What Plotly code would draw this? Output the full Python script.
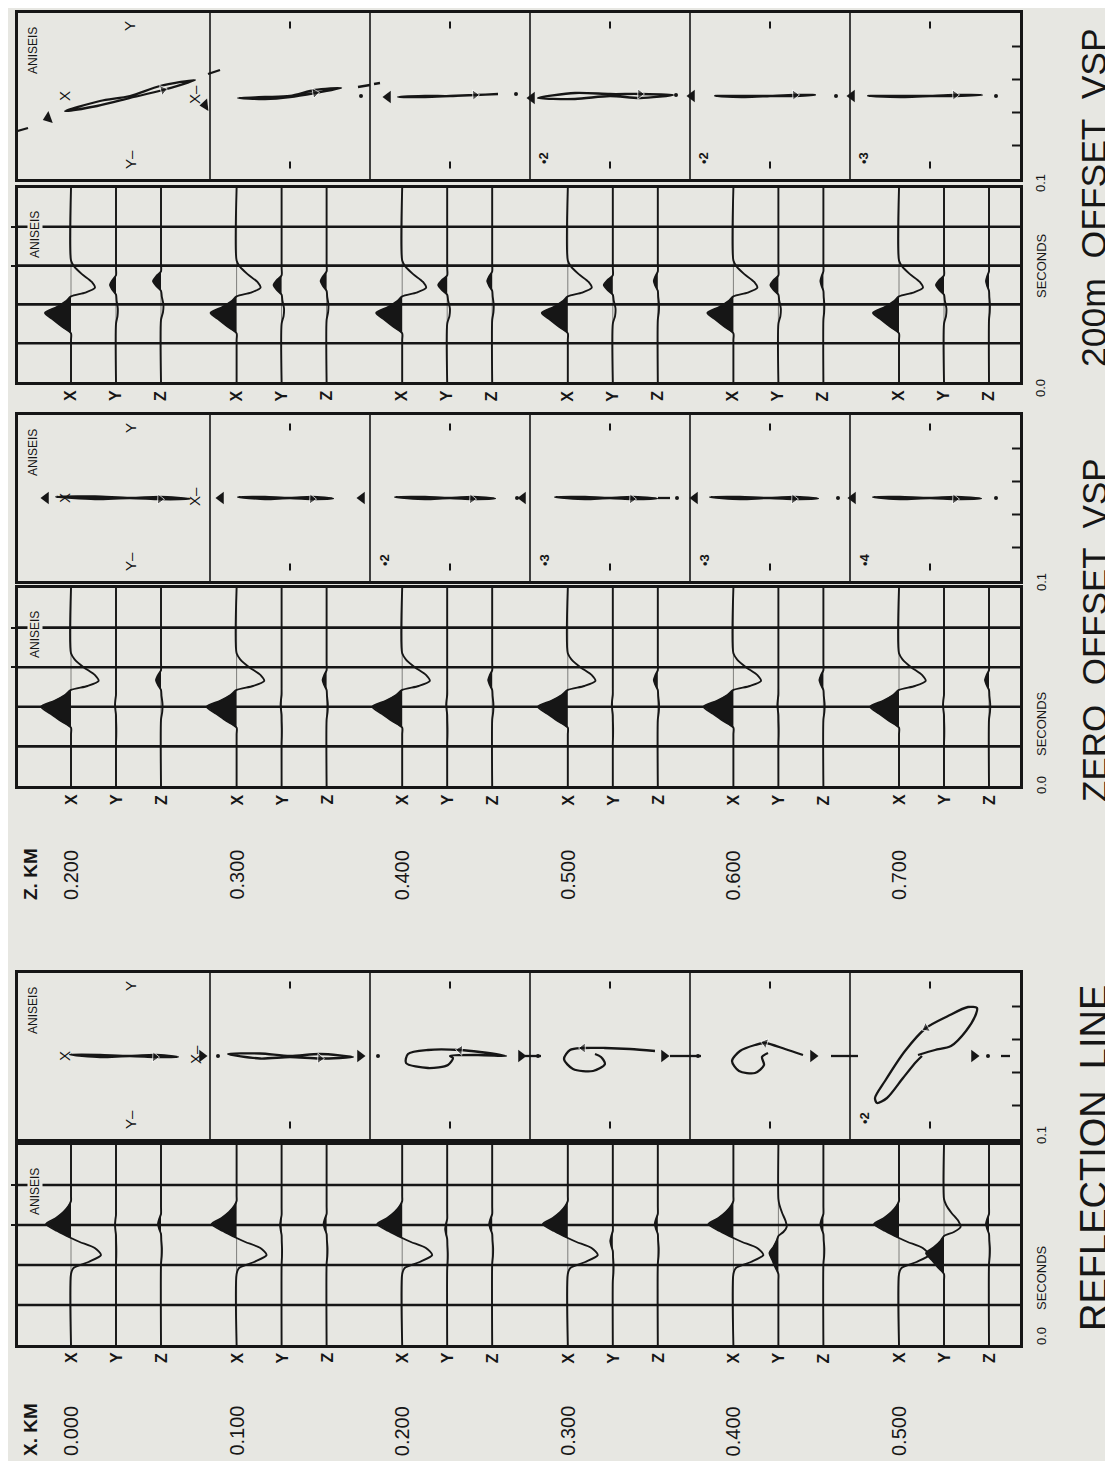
import plotly.graph_objects as go

FIG_W, FIG_H = 1113, 1461
PAPER = "#e7e7e2"
INK = "#161616"
FONT = "Liberation Sans, Arial, Helvetica, sans-serif"

# ------------------------------------------------------------------ data
OFFSET_KM = [0.0, 0.1, 0.2, 0.3, 0.4, 0.5]
OFFSET_LABELS = ["0.000", "0.100", "0.200", "0.300", "0.400", "0.500"]
DEPTH_KM = [0.2, 0.3, 0.4, 0.5, 0.6, 0.7]
DEPTH_LABELS = ["0.200", "0.300", "0.400", "0.500", "0.600", "0.700"]
COMPONENTS = ["X", "Y", "Z"]
TIME_GRID_S = [0.02, 0.04, 0.06, 0.08]
TIME_TICKS_S = [0.06, 0.08]

# wavelet shapes: time relative to main peak (s), normalised amplitude
DIRECT_T = [-0.014, -0.0105, -0.007, -0.0035, 0.0, 0.003, 0.006, 0.0085, 0.0105, 0.013, 0.016, 0.020, 0.024, 0.027]
DIRECT_A = [0.0, 0.0, 0.35, 0.68, 1.0, 0.55, 0.2, 0.0, -0.55, -0.92, -0.8, -0.42, -0.12, 0.0]
REFLECT_T = [-0.025, -0.022, -0.019, -0.0155, -0.012, -0.009, -0.007, -0.0035, 0.0, 0.003, 0.006, 0.009, 0.0115, 0.014]
REFLECT_A = [0.0, -0.1, -0.7, -1.2, -0.95, -0.35, 0.0, 0.55, 1.0, 0.6, 0.3, 0.1, 0.0, 0.0]
LOBE_T = [-0.02, -0.016, -0.012, -0.008, -0.005, -0.0025, 0.0, 0.0025, 0.005, 0.009]
LOBE_A = [0.0, -0.25, -0.3, -0.1, 0.0, 0.6, 1.0, 0.6, 0.0, 0.0]
TEMPLATES = {"direct": (DIRECT_T, DIRECT_A), "reflect": (REFLECT_T, REFLECT_A), "lobe": (LOBE_T, LOBE_A)}

# per-trace amplitude (plot units) and peak time (s)
REFL_X_AMP = [25, 25, 25, 25, 25, 25]
REFL_X_T0 = [0.0605, 0.0605, 0.0605, 0.0605, 0.0605, 0.0605]
REFL_Y_AMP = [1.0, 1.5, 2.0, 2.5, 9.0, 18.0]
REFL_Y_T0 = [0.060, 0.060, 0.058, 0.052, 0.046, 0.046]
REFL_Y_SHAPE = ["lobe", "lobe", "lobe", "lobe", "direct", "direct"]
REFL_Z_AMP = [3, 3, 3, 3, 3, 3]
REFL_Z_T0 = [0.0605, 0.0605, 0.0605, 0.0605, 0.0605, 0.0605]

ZERO_X_AMP = [30, 30, 30, 30, 30, 29]
ZERO_X_T0 = [0.040, 0.040, 0.040, 0.040, 0.040, 0.040]
ZERO_Y_AMP = [1, 1, 1, 1, 1, 1]
ZERO_Y_T0 = [0.041, 0.041, 0.041, 0.041, 0.041, 0.041]
ZERO_Z_AMP = [5, 4, 4, 4, 4, 4]
ZERO_Z_T0 = [0.0535, 0.0535, 0.0535, 0.0535, 0.0535, 0.0535]

OFF_X_AMP = [26, 26, 26, 26, 26, 26]
OFF_X_T0 = [0.0356, 0.0356, 0.0356, 0.0356, 0.0356, 0.0356]
OFF_Y_AMP = [6, 8, 9, 9, 8, 8]
OFF_Y_T0 = [0.050, 0.050, 0.050, 0.050, 0.050, 0.050]
OFF_Z_AMP = [8, 6, 5, 4, 3, 3]
OFF_Z_T0 = [0.052, 0.052, 0.052, 0.052, 0.052, 0.052]

# hodograms (X positive toward image-left, Y positive up), plot units, one list per cell
HODO_OFF = [
    [(0, 0), (30, -5), (65, -15), (33, -10), (0, -2), (-33, 6), (-65, 16), (-30, 10), (0, 0)],
    [(0, 0), (25, -1), (52, -2), (25, -3), (0, -1), (-25, 3), (-51, 8), (-25, 6), (0, 0)],
    [(0, 0), (25, 0), (52, -1), (25, -1), (0, 0), (-25, 1), (-48, 2), (-25, 1), (0, 0)],
    [(0, 0), (35, -3), (72, -2), (35, 3), (0, 2), (-30, 2), (-63, 1), (-30, -2), (0, 0)],
    [(0, 0), (25, 0), (55, 0), (25, -1), (0, 0), (-25, 1), (-45, 1), (-25, 0), (0, 0)],
    [(0, 0), (25, 0), (62, 0), (25, -1), (0, 0), (-25, 1), (-52, 1), (-25, 0), (0, 0)],
]
HODO_ZERO = [
    [(0, 0), (35, 1.5), (74, 1.2), (35, -1), (0, 0), (-30, -1.2), (-60, -0.8), (-30, 1), (0, 0)],
    [(0, 0), (25, 1), (52, 1), (25, -1), (0, 0), (-22, -1), (-43, -0.5), (-22, 1), (0, 0)],
    [(0, 0), (25, 1), (55, 1), (25, -1), (0, 0), (-22, -1), (-45, -0.5), (-22, 1), (0, 0)],
    [(0, 0), (25, 1), (55, 1), (25, -1), (0, 0), (-22, -1), (-47, -0.5), (-22, 1), (0, 0)],
    [(0, 0), (30, 1), (60, 1), (30, -1), (0, 0), (-24, -1), (-48, -0.5), (-24, 1), (0, 0)],
    [(0, 0), (30, 1), (57, 1), (30, -1), (0, 0), (-25, -1), (-51, -0.5), (-25, 1), (0, 0)],
]
HODO_REFL = [
    [(0, 0), (30, 1), (60, 1.5), (30, -1), (0, 0), (-25, -1), (-48, -1), (-25, 1), (0, 0)],
    [(0, 0), (30, 2.5), (62, 2), (30, -2.5), (0, -1), (-30, -2.5), (-63, -1), (-30, 2), (0, 0)],
    [(0, 0), (-28, 1), (-56, 0), (-30, 4), (-10, 6), (22, 6), (42, 2), (44, -7), (22, -12), (2, -9), (-3, -2), (0, 0)],
    [(-45, 5), (-20, 7), (5, 8), (27, 8), (40, 6), (46, -3), (37, -13), (17, -15), (5, -8), (9, -1), (15, 2)],
    [(-33, 1), (-15, 7), (5, 13), (15, 11), (30, 5), (38, -5), (31, -15), (15, -17), (6, -9), (8, -1), (2, 3)],
    [(12, 1), (-5, 6), (-21, 10), (-36, 25), (-46, 42), (-47, 48), (-38, 49), (-18, 40), (4, 28), (25, 5),
     (45, -25), (55, -42), (53, -47), (43, -42), (27, -22), (14, -6), (8, 0)],
]
HODO_ARROW_IDX = {  # index of path point that carries a direction arrow
    "off": [5, 5, 5, 5, 5, 5],
    "zero": [5, 5, 5, 5, 5, 5],
    "refl": [5, 5, 4, 3, 2, 8],
}
# polarisation indicator: (X, Y) of the arrow-head, its pointing angle (deg), (X, Y) of the dot
DIR_OFF = [((82, -22), -110, None), ((85, -9), -96, (-71, 0)), ((62, -1), -90, (-66, 2)),
           ((78, -2), -90, (-66, 1)), ((78, 0), -90, (-66, 0)), ((78, 0), -90, (-66, 0))]
DIR_ZERO = [((84, 0), -90, None), ((69, 0), -90, None), ((88, 0), -90, (-67, 0)),
            ((87, 0), -90, (-67, 0)), ((75, 0), -90, (-68, 0)), ((77, 0), -90, (-66, 0))]
DIR_REFL = [((-72, 0), 90, None), ((-70, 0), 90, (72, 0)), ((-71, 0), 90, (72, 0)),
            ((-54, 0), 90, (72, 0)), ((-43, 0), 90, (72, 0)), ((-44, 0), 90, (-58, 0))]
# short dashes of the polarisation axis: (cell, X1, Y1, X2, Y2)
DASH_OFF = [(0, 116, -36, 102, -32), (0, -78, 22, -90, 26), (1, -68, 9, -80, 11), (1, -84, 12, -90, 13)]
DASH_ZERO = [(3, -48, 0, -60, 0)]
DASH_REFL = [(3, 85, 0, 69, 0), (3, -60, 0, -91, 0), (4, -61, 0, -88, 0), (5, -71, 0, -80, 0)]
SCALE_OFF = [None, None, None, "•2", "•2", "•3"]
SCALE_ZERO = [None, None, "•2", "•3", "•3", "•4"]
SCALE_REFL = [None, None, None, None, None, "•2"]

# ------------------------------------------------------------------ layout constants
X_LEFT, X_RIGHT = 10, 1012
PX_PER_KM = 1656.0
FIRST_TRACE_PX = 63
COMP_SHIFT_KM = [0.0, 45 / PX_PER_KM, 90 / PX_PER_KM]
GAIN_KM = 1 / PX_PER_KM
CELL = 160.0
HODO_ORIGIN_PX = 122
PANEL_Y = {"p200": (5, 171), "s200": (180, 374), "p0": (407, 573), "s0": (580, 778),
           "pr": (965, 1131), "sr": (1137, 1337)}

fig = go.Figure()
layout_axes = {}
annotations = []


def dom_y(top, bot):
    return [1 - bot / FIG_H, 1 - top / FIG_H]


def add_axes(idx, kind, top, bot, x0_km=0.0):
    sx = "" if idx == 1 else str(idx)
    xd = [X_LEFT / FIG_W, X_RIGHT / FIG_W]
    if kind == "seis":
        xr = [x0_km - (FIRST_TRACE_PX - X_LEFT) / PX_PER_KM, x0_km + (X_RIGHT - FIRST_TRACE_PX) / PX_PER_KM]
        yr = [0.0, 0.1]
    else:
        xr = [X_LEFT - HODO_ORIGIN_PX, X_RIGHT - HODO_ORIGIN_PX]
        h = bot - top
        yr = [-h / 2, h / 2]
    layout_axes["xaxis" + sx] = dict(domain=xd, range=xr, anchor="y" + sx, showgrid=False, zeroline=False,
                                     showticklabels=False, ticks="", showline=True, mirror=True,
                                     linecolor=INK, linewidth=2.5, fixedrange=True)
    yax = dict(domain=dom_y(top, bot), range=yr, anchor="x" + sx, showgrid=False, zeroline=False,
               showticklabels=False, showline=True, mirror=True, linecolor=INK, linewidth=2.5,
               fixedrange=True)
    if kind == "seis":
        yax.update(ticks="outside", tickvals=TIME_TICKS_S, ticklen=4, tickwidth=2, tickcolor=INK)
    else:
        yax.update(ticks="")
    layout_axes["yaxis" + sx] = yax
    return "x" + sx, "y" + sx


def ann(xp, yp, text, size, bold=False, bg=None, angle=-90):
    d = dict(x=xp / FIG_W, y=1 - yp / FIG_H, xref="paper", yref="paper", text=("<b>%s</b>" % text) if bold else text,
             showarrow=False, textangle=angle, xanchor="center", yanchor="middle",
             font=dict(family=FONT, size=size, color=INK))
    if bg:
        d.update(bgcolor=bg, borderpad=0)
    annotations.append(d)


def seis_panel(idx, key, base_km, comps, label_top_gap=13):
    top, bot = PANEL_Y[key]
    xa, ya = add_axes(idx, "seis", top, bot, base_km[0])
    x_left = base_km[0] - (FIRST_TRACE_PX - X_LEFT) / PX_PER_KM
    x_right = base_km[0] + (X_RIGHT - FIRST_TRACE_PX) / PX_PER_KM
    gx, gy = [], []
    for t in TIME_GRID_S:
        gx += [x_left, x_right, None]
        gy += [t, t, None]
    fig.add_trace(go.Scatter(x=gx, y=gy, mode="lines", line=dict(color=INK, width=2.6),
                             xaxis=xa, yaxis=ya, hoverinfo="skip", showlegend=False))
    for g, b in enumerate(base_km):
        for c, (shape_list, amps, t0s) in enumerate(comps):
            T, A = TEMPLATES[shape_list[g]]
            ts = [0.0] + [t0s[g] + dt for dt in T] + [0.1]
            vs = [0.0] + [amps[g] * a for a in A] + [0.0]
            base = b + COMP_SHIFT_KM[c]
            ft, fv = [ts[0]], [max(vs[0], 0)]
            for i in range(1, len(ts)):
                a0, a1 = vs[i - 1], vs[i]
                if (a0 > 0 > a1) or (a0 < 0 < a1):
                    tc = ts[i - 1] + (ts[i] - ts[i - 1]) * a0 / (a0 - a1)
                    ft.append(tc)
                    fv.append(0.0)
                ft.append(ts[i])
                fv.append(max(a1, 0.0))
            fig.add_trace(go.Scatter(x=[base - v * GAIN_KM for v in fv], y=ft, mode="lines", fill="toself",
                                     fillcolor=INK, line=dict(color=INK, width=0.5), xaxis=xa, yaxis=ya,
                                     hoverinfo="skip", showlegend=False))
            fig.add_trace(go.Scatter(x=[base - v * GAIN_KM for v in vs], y=ts, mode="lines",
                                     line=dict(color=INK, width=1.9, shape="spline", smoothing=0.7),
                                     xaxis=xa, yaxis=ya, hoverinfo="skip", showlegend=False))
    ann(27, top + 47, "ANISEIS", 12, bg=PAPER)
    for g in range(len(base_km)):
        for c, name in enumerate(COMPONENTS):
            ann(FIRST_TRACE_PX + g * 0.1 * PX_PER_KM + c * 45, bot + label_top_gap, name, 16, bold=True)


def hodo_panel(idx, key, hodos, arrow_idx, dirs, dashes, scales):
    top, bot = PANEL_Y[key]
    xa, ya = add_axes(idx, "hodo", top, bot)
    h = bot - top
    dx, dy = [], []
    for k in range(5):
        dx += [k * CELL + CELL / 2, k * CELL + CELL / 2, None]
        dy += [-h / 2, h / 2, None]
    fig.add_trace(go.Scatter(x=dx, y=dy, mode="lines", line=dict(color=INK, width=1.6),
                             xaxis=xa, yaxis=ya, hoverinfo="skip", showlegend=False))
    tx, ty = [], []
    xr = X_RIGHT - HODO_ORIGIN_PX
    for v in (-49.5, -16.5, 16.5, 49.5):
        tx += [xr - 8, xr, None]
        ty += [v, v, None]
    fig.add_trace(go.Scatter(x=tx, y=ty, mode="lines", line=dict(color=INK, width=2),
                             xaxis=xa, yaxis=ya, hoverinfo="skip", showlegend=False))
    sx_, sy_ = [], []
    for (k, x1, y1, x2, y2) in dashes:
        sx_ += [k * CELL - x1, k * CELL - x2, None]
        sy_ += [y1, y2, None]
    if sx_:
        fig.add_trace(go.Scatter(x=sx_, y=sy_, mode="lines", line=dict(color=INK, width=2.3),
                                 xaxis=xa, yaxis=ya, hoverinfo="skip", showlegend=False))
    for k, pts in enumerate(hodos):
        ox = k * CELL
        xs = [ox - p[0] for p in pts]
        ys = [p[1] for p in pts]
        fig.add_trace(go.Scatter(x=xs, y=ys, mode="lines",
                                 line=dict(color=INK, width=2.3, shape="spline", smoothing=0.8),
                                 xaxis=xa, yaxis=ya, hoverinfo="skip", showlegend=False))
        i = arrow_idx[k]
        fig.add_trace(go.Scatter(x=[xs[i - 1], xs[i]], y=[ys[i - 1], ys[i]], mode="markers",
                                 marker=dict(symbol="triangle-up", size=[0, 9], color=INK, angleref="previous"),
                                 xaxis=xa, yaxis=ya, hoverinfo="skip", showlegend=False))
        (axp, ang, dot) = dirs[k]
        fig.add_trace(go.Scatter(x=[ox - axp[0]], y=[axp[1]], mode="markers",
                                 marker=dict(symbol="triangle-up", size=11, color=INK, angle=ang),
                                 xaxis=xa, yaxis=ya, hoverinfo="skip", showlegend=False))
        if dot is not None:
            fig.add_trace(go.Scatter(x=[ox - dot[0]], y=[dot[1]], mode="markers",
                                     marker=dict(symbol="circle", size=4, color=INK),
                                     xaxis=xa, yaxis=ya, hoverinfo="skip", showlegend=False))
        if k > 0:
            fig.add_trace(go.Scatter(x=[ox, ox], y=[h / 2 - 12, -h / 2 + 14], mode="markers",
                                     marker=dict(symbol="line-ns", size=5, line=dict(width=2, color=INK)),
                                     xaxis=xa, yaxis=ya, hoverinfo="skip", showlegend=False))
        if scales[k]:
            cell_left = HODO_ORIGIN_PX + k * CELL - CELL / 2
            ann(cell_left + 14, bot - 21, scales[k], 13, bold=True)
    cy = (top + bot) / 2
    ann(25, top + 38, "ANISEIS", 12, bg=PAPER)
    ann(HODO_ORIGIN_PX, top + 13, "Y", 15)
    ann(HODO_ORIGIN_PX, bot - 19, "Y–", 15)
    ann(56, cy, "X", 15)
    ann(187, cy - 2, "X–", 15)


# ------------------------------------------------------------------ build panels
hodo_panel(1, "p200", HODO_OFF, HODO_ARROW_IDX["off"], DIR_OFF, DASH_OFF, SCALE_OFF)
seis_panel(2, "s200", DEPTH_KM, [(["direct"] * 6, OFF_X_AMP, OFF_X_T0), (["lobe"] * 6, OFF_Y_AMP, OFF_Y_T0),
                                 (["lobe"] * 6, OFF_Z_AMP, OFF_Z_T0)], label_top_gap=14)
hodo_panel(3, "p0", HODO_ZERO, HODO_ARROW_IDX["zero"], DIR_ZERO, DASH_ZERO, SCALE_ZERO)
seis_panel(4, "s0", DEPTH_KM, [(["direct"] * 6, ZERO_X_AMP, ZERO_X_T0), (["lobe"] * 6, ZERO_Y_AMP, ZERO_Y_T0),
                               (["lobe"] * 6, ZERO_Z_AMP, ZERO_Z_T0)], label_top_gap=14)
hodo_panel(5, "pr", HODO_REFL, HODO_ARROW_IDX["refl"], DIR_REFL, DASH_REFL, SCALE_REFL)
seis_panel(6, "sr", OFFSET_KM, [(["reflect"] * 6, REFL_X_AMP, REFL_X_T0), (REFL_Y_SHAPE, REFL_Y_AMP, REFL_Y_T0),
                                (["lobe"] * 6, REFL_Z_AMP, REFL_Z_T0)], label_top_gap=13)

ann(22, 1422, "X. KM", 19, bold=True)
for g, lab in enumerate(OFFSET_LABELS):
    ann(FIRST_TRACE_PX + g * 0.1 * PX_PER_KM, 1423, lab, 20)
ann(22, 866, "Z. KM", 19, bold=True)
for g, lab in enumerate(DEPTH_LABELS):
    ann(FIRST_TRACE_PX + g * 0.1 * PX_PER_KM, 867, lab, 20)

for (y00, ysec, y01) in [(380, 258, 175), (777, 716, 574), (1328, 1270, 1127)]:
    ann(1033, y00, "0.0", 13)
    ann(1033, ysec, "SECONDS", 13)
    ann(1033, y01, "0.1", 13)

ann(1086, 1150, "REFLECTION  LINE", 38)
ann(1086, 622, "ZERO  OFFSET  VSP", 35)
ann(1086, 190, "200m  OFFSET  VSP", 35.5)

fig.update_layout(width=FIG_W, height=FIG_H, margin=dict(l=0, r=0, t=0, b=0), paper_bgcolor=PAPER,
                  plot_bgcolor=PAPER, showlegend=False, annotations=annotations, **layout_axes)
fig.write_html("out.html", config={"displayModeBar": False})
